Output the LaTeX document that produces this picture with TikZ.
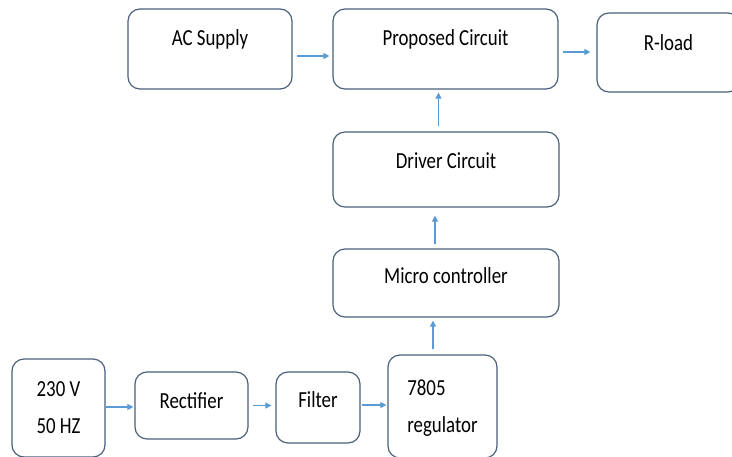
\documentclass[tikz,border=0pt]{standalone}
\usepackage{fontspec}
\setmainfont{Carlito}
\newfontfamily\blockfont[FakeStretch=0.82]{Carlito}
\usetikzlibrary{arrows.meta}
\definecolor{boxline}{RGB}{76,96,124}
\definecolor{flowline}{RGB}{91,155,213}

\begin{document}
\begin{tikzpicture}
	[x=1pt,y=-1pt,
	block/.style={draw=boxline, line width=1.2pt, rounded corners=12pt, inner sep=0pt, font=\blockfont\fontsize{23}{37}\selectfont},
	flow/.style={-{Triangle[length=6pt,width=6pt]}, draw=flowline, fill=flowline, line width=1.3pt}];

	\useasboundingbox (0,0) rectangle (732,456);

	%Top row
	\node[block, minimum width=164pt, text height=36pt, text depth=44pt] (ac) at (210,49) {AC Supply};
	\node[block, minimum width=225pt, text height=36pt, text depth=44pt] (prop) at (445.5,49) {Proposed Circuit};
	\node[block, minimum width=143pt, text height=37pt, text depth=42pt] (rload) at (668.5,52.5) {R-load};

	%Control chain
	\node[block, minimum width=226pt, text height=36pt, text depth=39pt] (driver) at (446,169.5) {Driver Circuit};
	\node[block, minimum width=226pt, text height=34pt, text depth=34pt] (micro) at (446,283) {Micro controller};

	%Supply chain
	\node[block, minimum width=93pt, align=center, text height=74pt, text depth=24pt] (mains) at (58.5,408) {230 V\\50 HZ};
	\node[block, minimum width=113pt, text height=36pt, text depth=31pt] (rect) at (191.5,405.5) {Rectifier};
	\node[block, minimum width=84pt, text height=35pt, text depth=36pt] (filter) at (318,407.5) {Filter};
	\node[block, minimum width=109pt, align=left, text height=77pt, text depth=26pt] (reg) at (442.5,406.5) {7805\\regulator};

	%Arrows
	\draw[flow, shorten >=3pt] ([xshift=4pt,yshift=-7pt]ac.east) coordinate (a1) -- (a1 -| prop.west);
	\draw[flow, shorten >=6pt] ([xshift=4pt,yshift=-3pt]prop.east) coordinate (a2) -- (a2 -| rload.west);
	\draw[flow, shorten >=3pt] ([xshift=-7.5pt,yshift=5pt]driver.north) coordinate (a3) -- (a3 |- prop.south);
	\draw[flow, shorten >=8pt] ([xshift=-11pt,yshift=4pt]micro.north) coordinate (a4) -- (a4 |- driver.south);
	\draw[flow, shorten >=3pt] ([xshift=-9.5pt,yshift=5pt]reg.north) coordinate (a5) -- (a5 |- micro.south);
	\draw[flow, shorten >=1pt] ([yshift=1pt]mains.east) coordinate (a6) -- (a6 -| rect.west);
	\draw[flow, shorten >=4pt] ([xshift=4pt]rect.east) coordinate (a7) -- (a7 -| filter.west);
	\draw[flow, shorten >=1pt] ([xshift=1pt,yshift=2.5pt]filter.east) coordinate (a8) -- (a8 -| reg.west);
\end{tikzpicture}
\end{document}
